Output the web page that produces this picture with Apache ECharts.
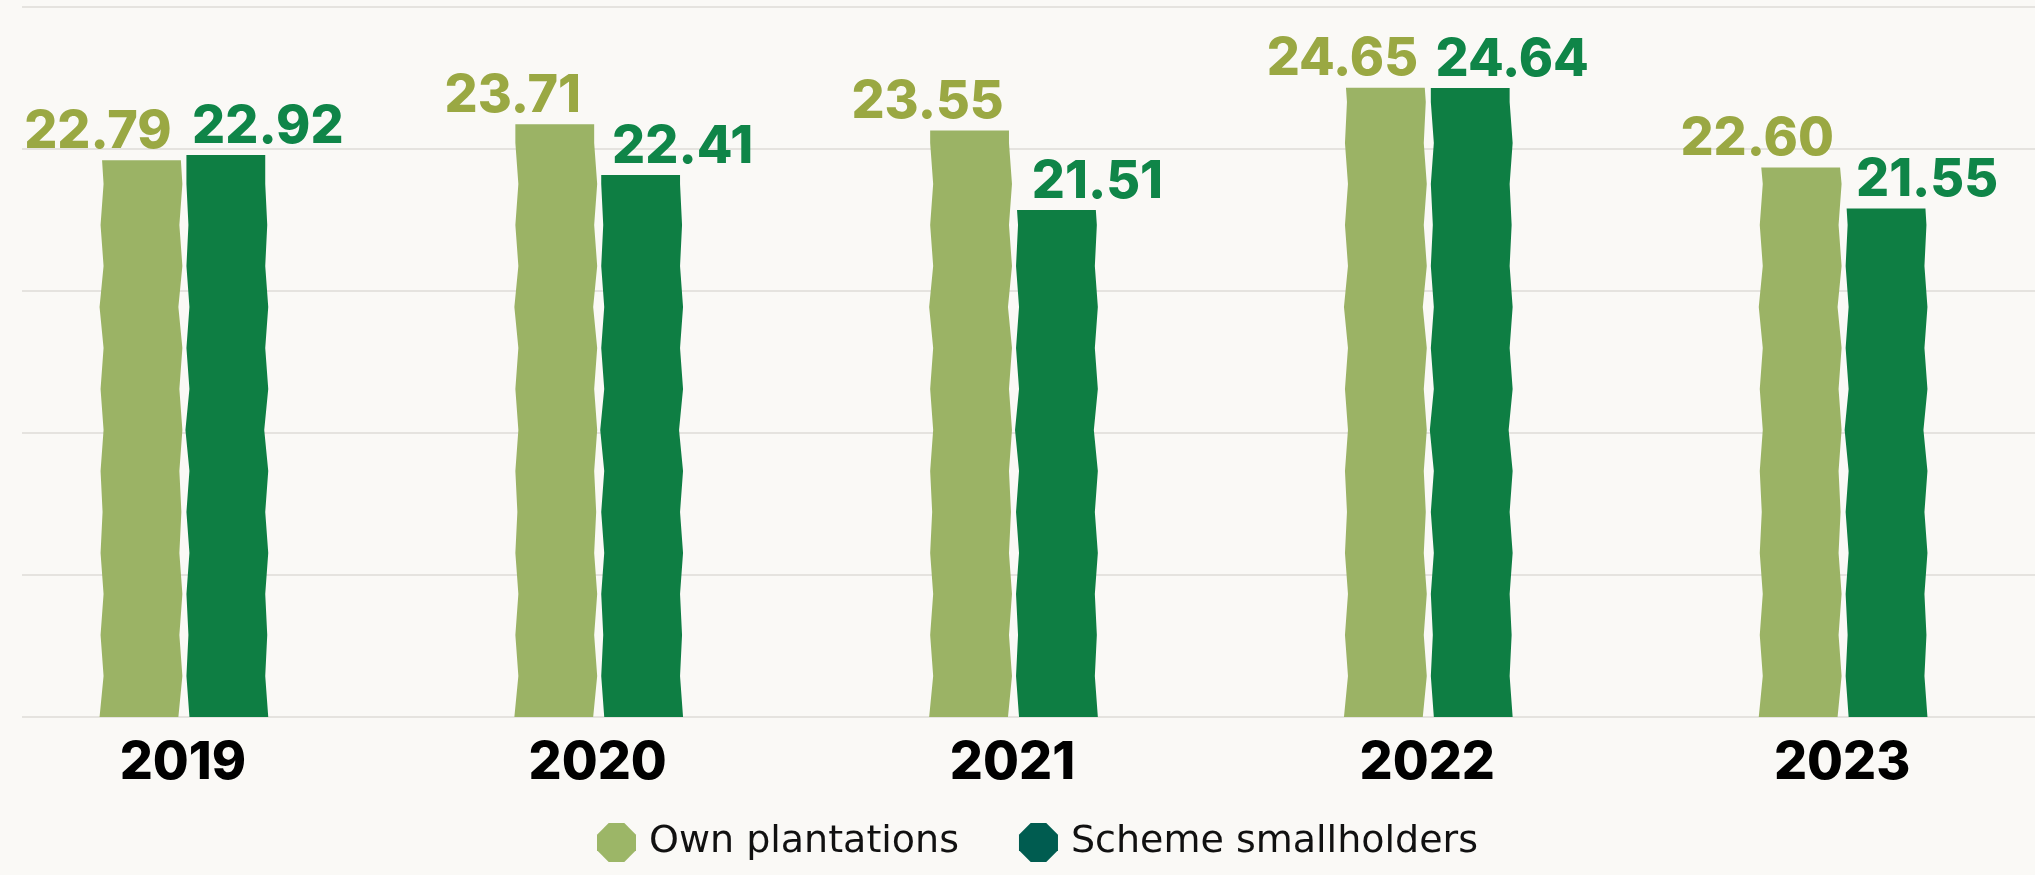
<!DOCTYPE html>
<html>
<head>
<meta charset="utf-8">
<script src="https://cdn.jsdelivr.net/npm/echarts@6/dist/echarts.min.js"></script>
<style>
  html, body { margin: 0; padding: 0; background: #faf9f6; }
  #chart { width: 2035px; height: 875px; }
</style>
</head>
<body>
<div id="chart"></div>
<script>
// Yield per year, tonnes per hectare
const years = ['2019', '2020', '2021', '2022', '2023'];
const ownPlantations = [22.79, 23.71, 23.55, 24.65, 22.60];
const schemeSmallholders = [22.92, 22.41, 21.51, 24.64, 21.55];
const seriesNames = ['Own plantations', 'Scheme smallholders'];

const Y_MIN = 8.5;
const Y_MAX = 26.72;

const FONT = 'Inter, "Open Sans", sans-serif';

// Bars with slightly torn, wavy sides, value label set off to the outside
function paperBar(side, labelColor, phase) {
  return function (params, api) {
    const cat = api.value(0);
    const val = api.value(1);
    const cs = params.coordSys;
    const bottomY = cs.y + cs.height;
    const topPt = api.coord([cat, val]);
    const topY = topPt[1];
    const band = api.size([1, 0])[0];
    const w = band * 0.19;
    const gap = band * 0.017;
    const cx = topPt[0] + side * (w / 2 + gap / 2);
    const seg = 41;
    const ys = [];
    for (let y = bottomY; y > topY; y -= seg) ys.push(y);
    ys.push(topY);
    const shift = (j) => ((j + phase) % 2 === 1 ? 3 : 0) + ((j * 7 + phase) % 5 === 0 ? -1 : 0);
    const pts = [];
    for (let j = 0; j < ys.length; j++) {
      const s = j === ys.length - 1 ? shift(j - 1) * 0.5 : shift(j);
      pts.push([cx - w / 2 + s, ys[j]]);
    }
    for (let j = ys.length - 1; j >= 0; j--) {
      const s = j === ys.length - 1 ? shift(j - 1) * 0.5 : shift(j);
      pts.push([cx + w / 2 + s, ys[j]]);
    }
    return {
      type: 'group',
      children: [
        {
          type: 'polygon',
          shape: { points: pts },
          style: { fill: api.visual('color') }
        },
        {
          type: 'text',
          style: {
            text: val.toFixed(2),
            x: cx + side * 42,
            y: topY - 28,
            fill: labelColor,
            font: '800 52px ' + FONT,
            align: 'center',
            verticalAlign: 'middle'
          }
        }
      ]
    };
  };
}

const chart = echarts.init(document.getElementById('chart'), null, { renderer: 'canvas' });

chart.setOption({
  backgroundColor: '#faf9f6',
  animation: false,
  grid: [
    { left: 22, right: 0, top: 7, bottom: 158, outerBoundsMode: 'none' },
    { left: -24.5, width: 2074, top: 7, bottom: 158, outerBoundsMode: 'none' }
  ],
  xAxis: [
    { gridIndex: 0, type: 'value', show: false, min: 0, max: 1 },
    {
      gridIndex: 1,
      type: 'category',
      data: years,
      axisLine: { show: false },
      axisTick: { show: false },
      axisLabel: {
        margin: 20,
        color: '#000',
        fontFamily: FONT,
        fontWeight: 800,
        fontSize: 52
      }
    }
  ],
  yAxis: [
    {
      gridIndex: 0,
      type: 'value',
      min: 0,
      max: 5,
      interval: 1,
      axisLine: { show: false },
      axisTick: { show: false },
      axisLabel: { show: false },
      splitLine: { lineStyle: { color: '#e5e3df', width: 2 } }
    },
    {
      gridIndex: 1,
      type: 'value',
      min: Y_MIN,
      max: Y_MAX,
      show: false,
      splitLine: { show: false }
    }
  ],
  legend: {
    left: 592,
    top: 818,
    itemWidth: 39,
    itemHeight: 39,
    itemGap: 60,
    icon: 'path://M30,0 L70,0 L100,30 L100,70 L70,100 L30,100 L0,70 L0,30 Z',
    textStyle: {
      fontFamily: '"DejaVu Sans", sans-serif',
      fontSize: 38,
      color: '#111',
      padding: [0, 0, 0, 8]
    },
    data: [
      { name: seriesNames[0], itemStyle: { color: '#9cb667' } },
      { name: seriesNames[1], itemStyle: { color: '#005c50' } }
    ]
  },
  series: [
    {
      name: seriesNames[0],
      type: 'custom',
      xAxisIndex: 1,
      yAxisIndex: 1,
      itemStyle: { color: '#9bb365' },
      renderItem: paperBar(-1, '#9aa843', 0),
      data: ownPlantations.map((v, i) => [i, v])
    },
    {
      name: seriesNames[1],
      type: 'custom',
      xAxisIndex: 1,
      yAxisIndex: 1,
      itemStyle: { color: '#0e7e43' },
      renderItem: paperBar(1, '#0f8548', 1),
      data: schemeSmallholders.map((v, i) => [i, v])
    }
  ]
});
</script>
</body>
</html>
